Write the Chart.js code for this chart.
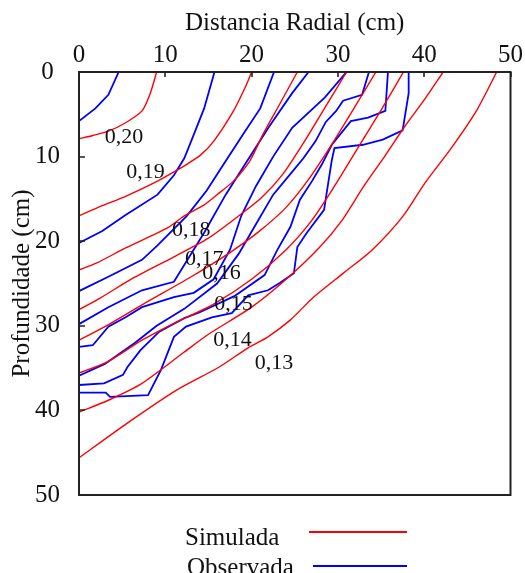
<!DOCTYPE html>
<html>
<head>
<meta charset="utf-8">
<script src="https://cdn.jsdelivr.net/npm/chart.js@4.4.1/dist/chart.umd.min.js"></script>
<style>
  html, body { margin: 0; padding: 0; background: #fff; }
  #wrap { width: 525px; height: 573px; }
</style>
</head>
<body>
<div id="wrap"><canvas id="chart" width="525" height="573"></canvas></div>
<script>
// radial distance (x) / depth (y) pairs, cm
const sim020 = [[9, 0], [8.2, 2.7], [7.3, 4.6], [5.4, 6.0], [3.4, 7.0], [1.6, 7.5], [0, 7.9]];
const sim019 = [[20, 0], [19.4, 1.5], [17.9, 4.6], [15.6, 8.2], [14.1, 9.8], [12.2, 11.1], [11, 11.8], [9.1, 12.9], [5.4, 14.7], [2.7, 15.8], [0, 17]];
const sim018 = [[25.3, 0], [23.2, 3.9], [21.3, 7.4], [19.8, 10.5], [17.9, 12.9], [16, 14.5], [14.5, 15.7], [12.2, 17], [10.3, 18.4], [5.4, 20.8], [2, 22.6], [0, 23.4]];
const sim017 = [[31, 0], [28.5, 4.2], [26, 8.4], [23.6, 12.1], [21.1, 14.9], [18, 17.4], [14.9, 19.7], [10.9, 21.9], [6.2, 24.4], [2.5, 26.7], [0, 28.1]];
const sim016 = [[34.4, 0], [31.8, 4.4], [29.2, 8.7], [26.6, 12.7], [24, 16], [20.8, 18.9], [17.4, 21.4], [13, 24.2], [7.5, 27.4], [3, 30.1], [0, 31.7]];
const sim015 = [[37.6, 0], [35, 4.5], [32.3, 9], [29.6, 13.5], [27, 17.5], [24, 21], [20, 24.5], [15.5, 27.5], [11, 29.7], [7.3, 31.7], [3.4, 34.2], [0, 35.6]];
const sim014 = [[42.2, 0], [40, 3.3], [37.7, 6.5], [35.4, 10], [33, 13.5], [30.5, 17.5], [27.8, 20.8], [24, 24.5], [20, 27.8], [15, 31], [12.2, 33.1], [7.3, 36.8], [3.4, 38.8], [0, 40.2]];
const sim013 = [[48.4, 0], [46.1, 4.5], [43.2, 8.9], [40.1, 13.1], [37.5, 17.1], [34, 21], [30.6, 23.8], [27.2, 26.6], [24.5, 29.3], [21.9, 31.3], [19.6, 32.6], [16.2, 34.9], [11.3, 37.6], [5.6, 41.5], [0, 45.6]];

const obs1 = [[4.6, 0], [3.4, 2.7], [1.9, 4.3], [0, 5.8]];
const obs2 = [[15.7, 0], [14.5, 4.3], [13.3, 7.4], [12.2, 10.2], [11, 12.2], [9.1, 14.5], [5.4, 16.9], [2.7, 18.8], [0, 20.2]];
const obs3 = [[22.6, 0], [21, 4.3], [19, 7.4], [16.7, 11], [14.8, 14], [12.5, 17], [9.1, 20.5], [7.3, 22.2], [3.4, 24.2], [0, 25.9]];
const obs4 = [[26.6, 0], [24.7, 2.5], [22, 6.5], [19.5, 10.5], [17, 14.5], [14.5, 19], [11, 24.8], [7.3, 25.8], [3.4, 27.8], [0, 29.8]];
const obs5 = [[31, 0], [28.5, 3], [24.7, 6.6], [22.5, 10], [20.5, 13.5], [18.8, 17], [17.5, 21], [15.6, 24.5], [13.3, 26.1], [11, 26.6], [7.3, 27.8], [5.4, 29], [3.4, 30.1], [1.6, 32.3], [0, 32.5]];
const obs6 = [[33.6, 0], [32.8, 2.7], [30.6, 3.4], [29.8, 4.6], [28.6, 5.9], [27.4, 8.2], [26, 10.2], [24.7, 11.8], [22.5, 14.5], [20.5, 18], [18.5, 21.5], [16, 25], [12.2, 28], [9, 30], [6.5, 32], [3, 34.5], [0, 35.9]];
const obs7 = [[35.8, 0], [35.5, 4.6], [33.5, 5.4], [31.5, 5.8], [29.3, 8.6], [28.1, 11], [27, 12.9], [25.6, 15.1], [24.5, 18.3], [23, 21], [21.5, 24], [18, 26.5], [14, 28.4], [12.2, 29.1], [9.3, 30.7], [7.1, 32.9], [5.6, 34.9], [5.1, 35.8], [2.9, 36.8], [0, 37]];
const obs8 = [[38.2, 0], [38.2, 2.5], [37.5, 6.9], [35.2, 8.0], [32.9, 8.6], [29.6, 9.0], [29.3, 10.4], [28.7, 14.3], [28.4, 16.3], [26.4, 19.0], [25.3, 20.7], [24.9, 23.8], [23.3, 24.9], [21.9, 25.8], [19.6, 26.4], [17.7, 28.5], [15.4, 29.0], [12.4, 30.1], [11, 31.3], [9.5, 35.2], [8.0, 38.2], [3.6, 38.4], [3.1, 37.9], [0, 37.9]];

const simulated = [sim020, sim019, sim018, sim017, sim016, sim015, sim014, sim013];
const observed = [obs1, obs2, obs3, obs4, obs5, obs6, obs7, obs8];

const contourLabels = ["0,20", "0,19", "0,18", "0,17", "0,16", "0,15", "0,14", "0,13"];
const contourLabelAt = [[5.2, 7.7], [7.7, 11.9], [13.0, 18.7], [14.5, 22.1], [16.5, 23.8], [17.9, 27.5], [17.8, 31.7], [22.6, 34.4]];

const xTicks = [0, 10, 20, 30, 40, 50];
const yTicks = [0, 10, 20, 30, 40, 50];
const legendLabels = ["Simulada", "Observada"];

const RED = "#ff0000";
const BLUE = "#0000ff";
const SERIF = "'Liberation Serif', 'Times New Roman', serif";

const toXY = (pts) => pts.map((p) => ({ x: p[0], y: p[1] }));

const datasets = [];
simulated.forEach((pts) => {
  datasets.push({
    label: legendLabels[0],
    data: toXY(pts),
    borderColor: RED,
    borderWidth: 1.4,
    tension: 0.25,
  });
});
observed.forEach((pts) => {
  datasets.push({
    label: legendLabels[1],
    data: toXY(pts),
    borderColor: BLUE,
    borderWidth: 1.8,
    tension: 0,
  });
});

const frame = {
  id: "frame",
  afterDraw(chart) {
    const { ctx, chartArea: a, scales } = chart;
    const sx = scales.x;
    const sy = scales.y;
    ctx.save();

    // box
    ctx.strokeStyle = "#222";
    ctx.lineWidth = 2;
    ctx.strokeRect(a.left, a.top, a.right - a.left, a.bottom - a.top);

    // inward tick marks
    ctx.lineWidth = 1.6;
    ctx.beginPath();
    sx.ticks.forEach((t) => {
      const px = Math.round(sx.getPixelForValue(t.value));
      ctx.moveTo(px, a.top);
      ctx.lineTo(px, a.top + 5);
    });
    sy.ticks.forEach((t) => {
      const py = Math.round(sy.getPixelForValue(t.value));
      ctx.moveTo(a.left, py);
      ctx.lineTo(a.left + 6, py);
    });
    ctx.stroke();

    // contour values
    ctx.fillStyle = "#111";
    ctx.font = "22px " + SERIF;
    ctx.textAlign = "center";
    ctx.textBaseline = "middle";
    contourLabels.forEach((txt, i) => {
      const p = contourLabelAt[i];
      ctx.fillText(txt, sx.getPixelForValue(p[0]), sy.getPixelForValue(p[1]));
    });

    // legend (text left, sample line right)
    const rows = [
      { text: legendLabels[0], color: RED, tx: 185, base: 545, x0: 309, x1: 407, ly: 532 },
      { text: legendLabels[1], color: BLUE, tx: 187, base: 575, x0: 313, x1: 407, ly: 566 },
    ];
    ctx.font = "25px " + SERIF;
    ctx.textAlign = "left";
    ctx.textBaseline = "alphabetic";
    rows.forEach((r) => {
      ctx.fillStyle = "#111";
      ctx.fillText(r.text, r.tx, r.base);
      ctx.strokeStyle = r.color;
      ctx.lineWidth = 2;
      ctx.beginPath();
      ctx.moveTo(r.x0, r.ly);
      ctx.lineTo(r.x1, r.ly);
      ctx.stroke();
    });

    ctx.restore();
  },
};

new Chart(document.getElementById("chart"), {
  type: "scatter",
  data: { datasets },
  options: {
    responsive: false,
    animation: false,
    showLine: true,
    elements: { point: { radius: 0, hoverRadius: 0 }, line: { fill: false } },
    layout: { padding: { left: 0, top: 0, right: 7, bottom: 78 } },
    plugins: { legend: { display: false }, tooltip: { enabled: false } },
    scales: {
      x: {
        type: "linear",
        position: "top",
        min: 0,
        max: 50,
        afterBuildTicks: (s) => { s.ticks = xTicks.map((v) => ({ value: v })); },
        afterFit: (s) => { s.height = 72; },
        grid: { display: false, drawTicks: false },
        border: { display: false },
        ticks: { color: "#111", padding: 2, maxRotation: 0, font: { family: SERIF, size: 25 } },
        title: {
          display: true,
          text: "Distancia Radial (cm)",
          color: "#111",
          padding: { top: 8, bottom: 0 },
          font: { family: SERIF, size: 25 },
        },
      },
      y: {
        type: "linear",
        position: "left",
        reverse: true,
        min: 0,
        max: 50,
        afterBuildTicks: (s) => { s.ticks = yTicks.map((v) => ({ value: v })); },
        afterFit: (s) => { s.width = 79; },
        grid: { display: false, drawTicks: false },
        border: { display: false },
        ticks: { color: "#111", padding: 19, crossAlign: "center", font: { family: SERIF, size: 25 } },
        title: {
          display: true,
          text: "Profundidade (cm)",
          color: "#111",
          padding: { top: 7, bottom: 0 },
          font: { family: SERIF, size: 25 },
        },
      },
    },
  },
  plugins: [frame],
});
</script>
</body>
</html>
